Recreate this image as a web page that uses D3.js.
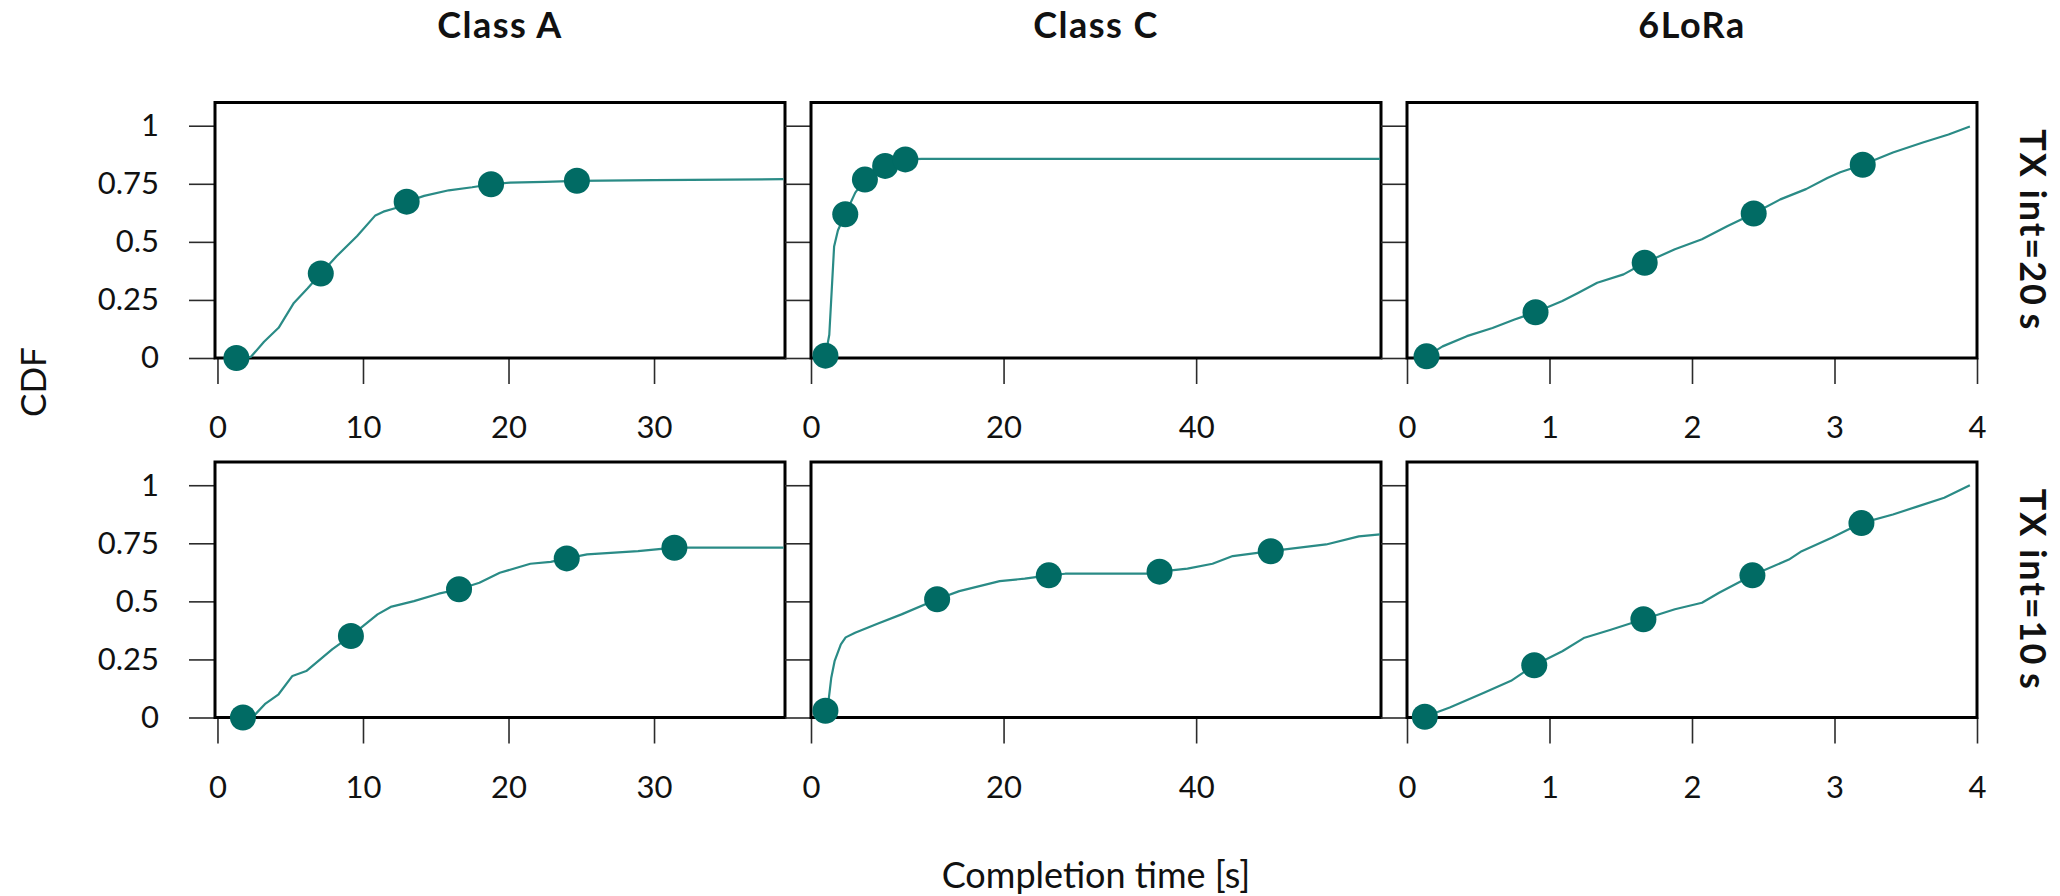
<!DOCTYPE html>
<html>
<head>
<meta charset="utf-8">
<script src="https://cdn.jsdelivr.net/npm/d3@7"></script>
<style>
  body { margin: 0; background: #fff; }
  text { font-family: Lato, "Open Sans", sans-serif; fill: #111; }
</style>
</head>
<body>
<svg id="chart" width="2060" height="896"></svg>
<script>
// ---- facets ----
const classNames = ["Class A", "Class C", "6LoRa"];
const intervalNames = ["TX int=20\u2009s", "TX int=10\u2009s"];

// ---- axes ----
const yTickValues = [0, 0.25, 0.5, 0.75, 1];
const yTickLabels = ["0", "0.25", "0.5", "0.75", "1"];
const xTicksClassA = [0, 10, 20, 30];
const xTicksClassC = [0, 20, 40];
const xTicks6LoRa = [0, 1, 2, 3, 4];
const xDomainClassA = [-0.17, 39];
const xDomainClassC = [0, 59.2];
const xDomain6LoRa = [0, 4.0];
const yDomain = [0, 1.1];

// ---- Class A, TX int = 20 s ----
const classA20Time = [1.3, 2.3, 3.2, 4.2, 5.25, 6.2, 7.1, 8.2, 9.6, 10.85, 11.4, 12.2, 13.0, 14.2, 15.9, 17.5, 18.8, 20.1, 22.5, 24.7, 30, 38.9];
const classA20Cdf  = [0, 0.005, 0.07, 0.13, 0.237, 0.30, 0.364, 0.439, 0.525, 0.614, 0.63, 0.645, 0.673, 0.698, 0.722, 0.735, 0.748, 0.755, 0.758, 0.763, 0.766, 0.77];
const classA20MarkTime = [1.3, 7.1, 13.0, 18.8, 24.7];
const classA20MarkCdf  = [0, 0.364, 0.673, 0.748, 0.763];

// ---- Class C, TX int = 20 s ----
const classC20Time = [1.5, 1.9, 2.4, 2.8, 3.56, 4.6, 5.6, 6.7, 7.7, 8.8, 9.8, 11.5, 59.1];
const classC20Cdf  = [0.01, 0.1, 0.48, 0.55, 0.619, 0.712, 0.768, 0.806, 0.827, 0.842, 0.855, 0.857, 0.857];
const classC20MarkTime = [1.5, 3.56, 5.6, 7.7, 9.8];
const classC20MarkCdf  = [0.01, 0.619, 0.768, 0.827, 0.855];

// ---- 6LoRa, TX int = 20 s ----
const lora20Time = [0.137, 0.25, 0.42, 0.6, 0.75, 0.902, 1.09, 1.2, 1.335, 1.52, 1.668, 1.88, 2.07, 2.25, 2.433, 2.62, 2.80, 2.95, 3.04, 3.198, 3.41, 3.62, 3.8, 3.95];
const lora20Cdf  = [0.007, 0.05, 0.094, 0.129, 0.165, 0.197, 0.245, 0.28, 0.324, 0.36, 0.41, 0.468, 0.511, 0.568, 0.622, 0.683, 0.727, 0.775, 0.80, 0.832, 0.885, 0.928, 0.962, 0.997];
const lora20MarkTime = [0.137, 0.902, 1.668, 2.433, 3.198];
const lora20MarkCdf  = [0.007, 0.197, 0.41, 0.622, 0.832];

// ---- Class A, TX int = 10 s ----
const classA10Time = [1.75, 2.5, 3.3, 4.2, 5.15, 6.1, 7.9, 9.17, 11.0, 11.9, 13.5, 15.2, 16.6, 18.0, 19.4, 21.5, 22.9, 24.0, 25.4, 28.9, 31.4, 38.9];
const classA10Cdf  = [0, 0.007, 0.06, 0.1, 0.179, 0.2, 0.294, 0.351, 0.444, 0.476, 0.501, 0.533, 0.552, 0.58, 0.623, 0.662, 0.67, 0.685, 0.702, 0.716, 0.731, 0.731];
const classA10MarkTime = [1.75, 9.17, 16.6, 24.0, 31.4];
const classA10MarkCdf  = [0, 0.351, 0.552, 0.685, 0.731];

// ---- Class C, TX int = 10 s ----
const classC10Time = [1.5, 1.82, 2.1, 2.46, 3.1, 3.6, 4.58, 6.9, 9.4, 13.1, 15.4, 19.6, 22.2, 24.7, 26.4, 34.9, 36.2, 39.1, 41.7, 43.8, 47.75, 53.5, 56.9, 59.1];
const classC10Cdf  = [0.029, 0.072, 0.17, 0.244, 0.315, 0.345, 0.365, 0.404, 0.444, 0.509, 0.544, 0.587, 0.598, 0.612, 0.619, 0.619, 0.628, 0.641, 0.662, 0.695, 0.716, 0.745, 0.78, 0.788];
const classC10MarkTime = [1.5, 13.1, 24.7, 36.2, 47.75];
const classC10MarkCdf  = [0.029, 0.509, 0.612, 0.628, 0.716];

// ---- 6LoRa, TX int = 10 s ----
const lora10Time = [0.125, 0.3, 0.54, 0.73, 0.893, 1.09, 1.24, 1.43, 1.659, 1.88, 2.07, 2.19, 2.424, 2.68, 2.77, 2.98, 3.189, 3.41, 3.59, 3.77, 3.95];
const lora10Cdf  = [0.003, 0.043, 0.107, 0.158, 0.225, 0.285, 0.342, 0.378, 0.423, 0.466, 0.494, 0.537, 0.612, 0.68, 0.716, 0.774, 0.837, 0.874, 0.91, 0.946, 1.0];
const lora10MarkTime = [0.125, 0.893, 1.659, 2.424, 3.189];
const lora10MarkCdf  = [0.003, 0.225, 0.423, 0.612, 0.837];

// ---- layout ----
const W = 2060, H = 896;
const panelLeft0 = 215, panelW = 570, panelGapX = 26;
const panelTop0 = 102.5, panelH = 255.5, panelGapY = 104;
const tickLen = 26;
const lineColor = "#2a8b86", markColor = "#016b64";

const xConfig = [
  { domain: xDomainClassA, ticks: xTicksClassA },
  { domain: xDomainClassC, ticks: xTicksClassC },
  { domain: xDomain6LoRa, ticks: xTicks6LoRa }
];

const zip = (a, b) => a.map((v, i) => [v, b[i]]);
const panels = [
  { row: 0, col: 0, line: zip(classA20Time, classA20Cdf), marks: zip(classA20MarkTime, classA20MarkCdf) },
  { row: 0, col: 1, line: zip(classC20Time, classC20Cdf), marks: zip(classC20MarkTime, classC20MarkCdf) },
  { row: 0, col: 2, line: zip(lora20Time, lora20Cdf), marks: zip(lora20MarkTime, lora20MarkCdf) },
  { row: 1, col: 0, line: zip(classA10Time, classA10Cdf), marks: zip(classA10MarkTime, classA10MarkCdf) },
  { row: 1, col: 1, line: zip(classC10Time, classC10Cdf), marks: zip(classC10MarkTime, classC10MarkCdf) },
  { row: 1, col: 2, line: zip(lora10Time, lora10Cdf), marks: zip(lora10MarkTime, lora10MarkCdf) }
];

const svg = d3.select("#chart");
svg.append("rect").attr("width", W).attr("height", H).attr("fill", "#fff");

const y = d3.scaleLinear().domain(yDomain).range([panelH, 0]);

panels.forEach(p => {
  const left = panelLeft0 + p.col * (panelW + panelGapX);
  const top = panelTop0 + p.row * (panelH + panelGapY);
  const cfg = xConfig[p.col];
  const x = d3.scaleLinear().domain(cfg.domain).range([0, panelW]);
  const g = svg.append("g").attr("transform", `translate(${left},${top})`);

  // left ticks (labelled only on the first column)
  const yAxis = d3.axisLeft(y)
    .tickValues(yTickValues)
    .tickSize(tickLen)
    .tickPadding(30)
    .tickFormat((d, i) => p.col === 0 ? yTickLabels[i] : "");
  const ya = g.append("g").call(yAxis);
  ya.select(".domain").remove();
  ya.selectAll(".tick line").attr("stroke", "#2b2b2b").attr("stroke-width", 1.6);
  ya.selectAll(".tick text").attr("font-size", 31).attr("font-family", "Lato").attr("fill", "#111");

  // bottom ticks
  const xAxis = d3.axisBottom(x)
    .tickValues(cfg.ticks)
    .tickSize(tickLen)
    .tickPadding(32)
    .tickFormat(d3.format("d"));
  const xa = g.append("g").attr("transform", `translate(0,${panelH})`).call(xAxis);
  xa.select(".domain").remove();
  xa.selectAll(".tick line").attr("stroke", "#2b2b2b").attr("stroke-width", 1.6);
  xa.selectAll(".tick text").attr("font-size", 31).attr("font-family", "Lato").attr("fill", "#111");

  // panel frame
  g.append("rect")
    .attr("x", 0).attr("y", 0).attr("width", panelW).attr("height", panelH)
    .attr("fill", "none").attr("stroke", "#000").attr("stroke-width", 3);

  // CDF curve
  g.append("path")
    .datum(p.line)
    .attr("fill", "none")
    .attr("stroke", lineColor)
    .attr("stroke-width", 2.2)
    .attr("stroke-linejoin", "round")
    .attr("d", d3.line().x(d => x(d[0])).y(d => y(d[1])));

  // point markers
  g.selectAll("circle.mark")
    .data(p.marks)
    .join("circle")
    .attr("class", "mark")
    .attr("cx", d => x(d[0]))
    .attr("cy", d => y(d[1]))
    .attr("r", 13)
    .attr("fill", markColor);
});

// column strips (top)
classNames.forEach((name, c) => {
  svg.append("text")
    .attr("x", panelLeft0 + c * (panelW + panelGapX) + panelW / 2)
    .attr("y", 38)
    .attr("text-anchor", "middle")
    .attr("font-size", 36)
    .attr("font-weight", 700)
    .attr("letter-spacing", 1.5)
    .text(name);
});

// row strips (right)
intervalNames.forEach((name, r) => {
  const cy = panelTop0 + r * (panelH + panelGapY) + panelH / 2;
  svg.append("text")
    .attr("transform", `translate(2034,${cy}) rotate(90)`)
    .attr("text-anchor", "middle")
    .attr("dominant-baseline", "central")
    .attr("font-size", 36)
    .attr("font-weight", 700)
    .attr("letter-spacing", 2)
    .text(name);
});

// axis titles
svg.append("text")
  .attr("transform", "translate(32,382) rotate(-90)")
  .attr("text-anchor", "middle")
  .attr("dominant-baseline", "central")
  .attr("font-size", 35)
  .text("CDF");

svg.append("text")
  .attr("x", panelLeft0 + 1 * (panelW + panelGapX) + panelW / 2)
  .attr("y", 888)
  .attr("text-anchor", "middle")
  .attr("font-size", 36)
  .text("Completion time [s]");
</script>
</body>
</html>
